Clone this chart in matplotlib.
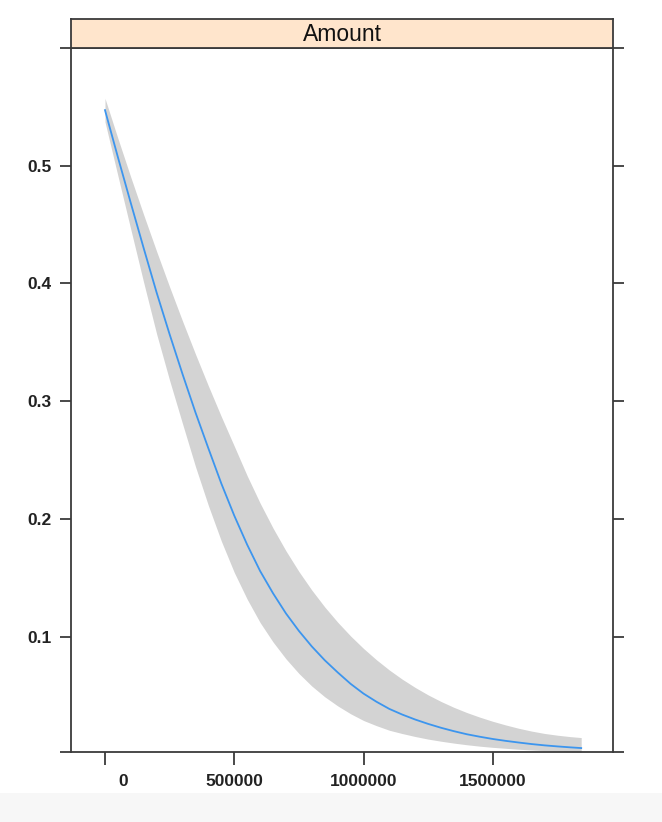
import matplotlib
matplotlib.use("Agg")
import matplotlib.pyplot as plt
from matplotlib.transforms import ScaledTranslation
from matplotlib.patches import Rectangle

# Data (Amount vs fitted probability with band)
amount = [0, 50000, 100000, 150000, 200000, 250000, 300000, 350000, 400000,
          450000, 500000, 550000, 600000, 650000, 700000, 750000, 800000,
          850000, 900000, 950000, 1000000, 1050000, 1100000, 1150000, 1200000,
          1250000, 1300000, 1350000, 1400000, 1450000, 1500000, 1550000,
          1600000, 1650000, 1700000, 1750000, 1800000, 1842000]
fit = [0.547, 0.507, 0.468, 0.4296, 0.392, 0.3568, 0.323, 0.2905, 0.260,
       0.2302, 0.203, 0.1783, 0.156, 0.1371, 0.120, 0.1052, 0.092,
       0.0803, 0.070, 0.0603, 0.052, 0.0451, 0.039, 0.0342, 0.030,
       0.0263, 0.023, 0.0201, 0.0175, 0.0154, 0.0135, 0.0119,
       0.0105, 0.0092, 0.0081, 0.0072, 0.0064, 0.0058]
upper = [0.557, 0.523, 0.490, 0.458, 0.427, 0.397, 0.368, 0.340, 0.313,
         0.287, 0.262, 0.2368, 0.2136, 0.1924, 0.1731, 0.1556, 0.1398,
         0.1255, 0.1126, 0.1009, 0.0903, 0.0807, 0.0720, 0.0642, 0.0572,
         0.0509, 0.0453, 0.0403, 0.0359, 0.0320, 0.0285, 0.0254,
         0.0226, 0.0202, 0.0182, 0.0167, 0.0155, 0.0147]
lower = [0.537, 0.4913, 0.4457, 0.4005, 0.3569, 0.3177, 0.2809, 0.2446, 0.2115,
         0.1814, 0.1548, 0.1321, 0.1123, 0.0958, 0.0815, 0.0691, 0.0584,
         0.0493, 0.0416, 0.0349, 0.0292, 0.0248, 0.0209, 0.0181, 0.0156,
         0.0134, 0.0116, 0.0100, 0.0086, 0.0074, 0.0064, 0.0056,
         0.0048, 0.0042, 0.0036, 0.0031, 0.0027, 0.0023]

x_ticks = [0, 500000, 1000000, 1500000]
x_tick_labels = ["0", "500000", "1000000", "1500000"]
y_ticks = [0.1, 0.2, 0.3, 0.4, 0.5]
y_tick_labels = ["0.1", "0.2", "0.3", "0.4", "0.5"]
strip_label = "Amount"

W, H = 662, 822
fig = plt.figure(figsize=(W / 100, H / 100), dpi=100)
fig.patch.set_facecolor("white")
fig.patches.append(Rectangle((0, 0), 1, 1 - 793 / H, transform=fig.transFigure,
                             facecolor="#f7f7f7", edgecolor="none", zorder=-10))

frame_col = "#3a3a3a"
lw = 1.3

left, right, top, bottom, strip_top = 71, 613, 48, 752, 19
ax = fig.add_axes([left / W, 1 - bottom / H, (right - left) / W, (bottom - top) / H])
strip = fig.add_axes([left / W, 1 - top / H, (right - left) / W, (top - strip_top) / H])

ax.fill_between(amount, lower, upper, color="#d3d3d3", linewidth=0)
ax.plot(amount, fit, color="#3c95ee", linewidth=1.3)

ax.set_xlim(-131500, 1965000)
ax.set_ylim(0.00246, 0.5997)

ylo, yhi = ax.get_ylim()
ax.set_yticks([ylo] + y_ticks + [yhi])
ax.set_yticklabels([""] + y_tick_labels + [""])
ax.set_xticks(x_ticks)
ax.set_xticklabels(x_tick_labels)

font = "Liberation Sans"
for lab in ax.get_yticklabels() + ax.get_xticklabels():
    lab.set_fontfamily(font)
    lab.set_fontweight("bold")
    lab.set_fontsize(12.5)
    lab.set_color("#222222")

ax.tick_params(axis="y", which="both", left=True, right=True, direction="out",
               length=8, width=lw, color=frame_col, pad=6)
ax.tick_params(axis="x", which="both", bottom=True, top=False, direction="out",
               length=9, width=lw, color=frame_col, pad=7)

# offset of the "0" label as in reference
xl = ax.get_xticklabels()
xl[0].set_transform(xl[0].get_transform() + ScaledTranslation(18 / 100, 0, fig.dpi_scale_trans))

for sp in ax.spines.values():
    sp.set_color(frame_col)
    sp.set_linewidth(lw)

strip.set_facecolor("#ffe5cc")
strip.set_xticks([])
strip.set_yticks([])
for sp in strip.spines.values():
    sp.set_color(frame_col)
    sp.set_linewidth(lw)
strip.text(0.5, 0.45, strip_label, ha="center", va="center", fontsize=16.5,
           family=font, color="#111111", transform=strip.transAxes)

fig.savefig("out.png", dpi=100)
